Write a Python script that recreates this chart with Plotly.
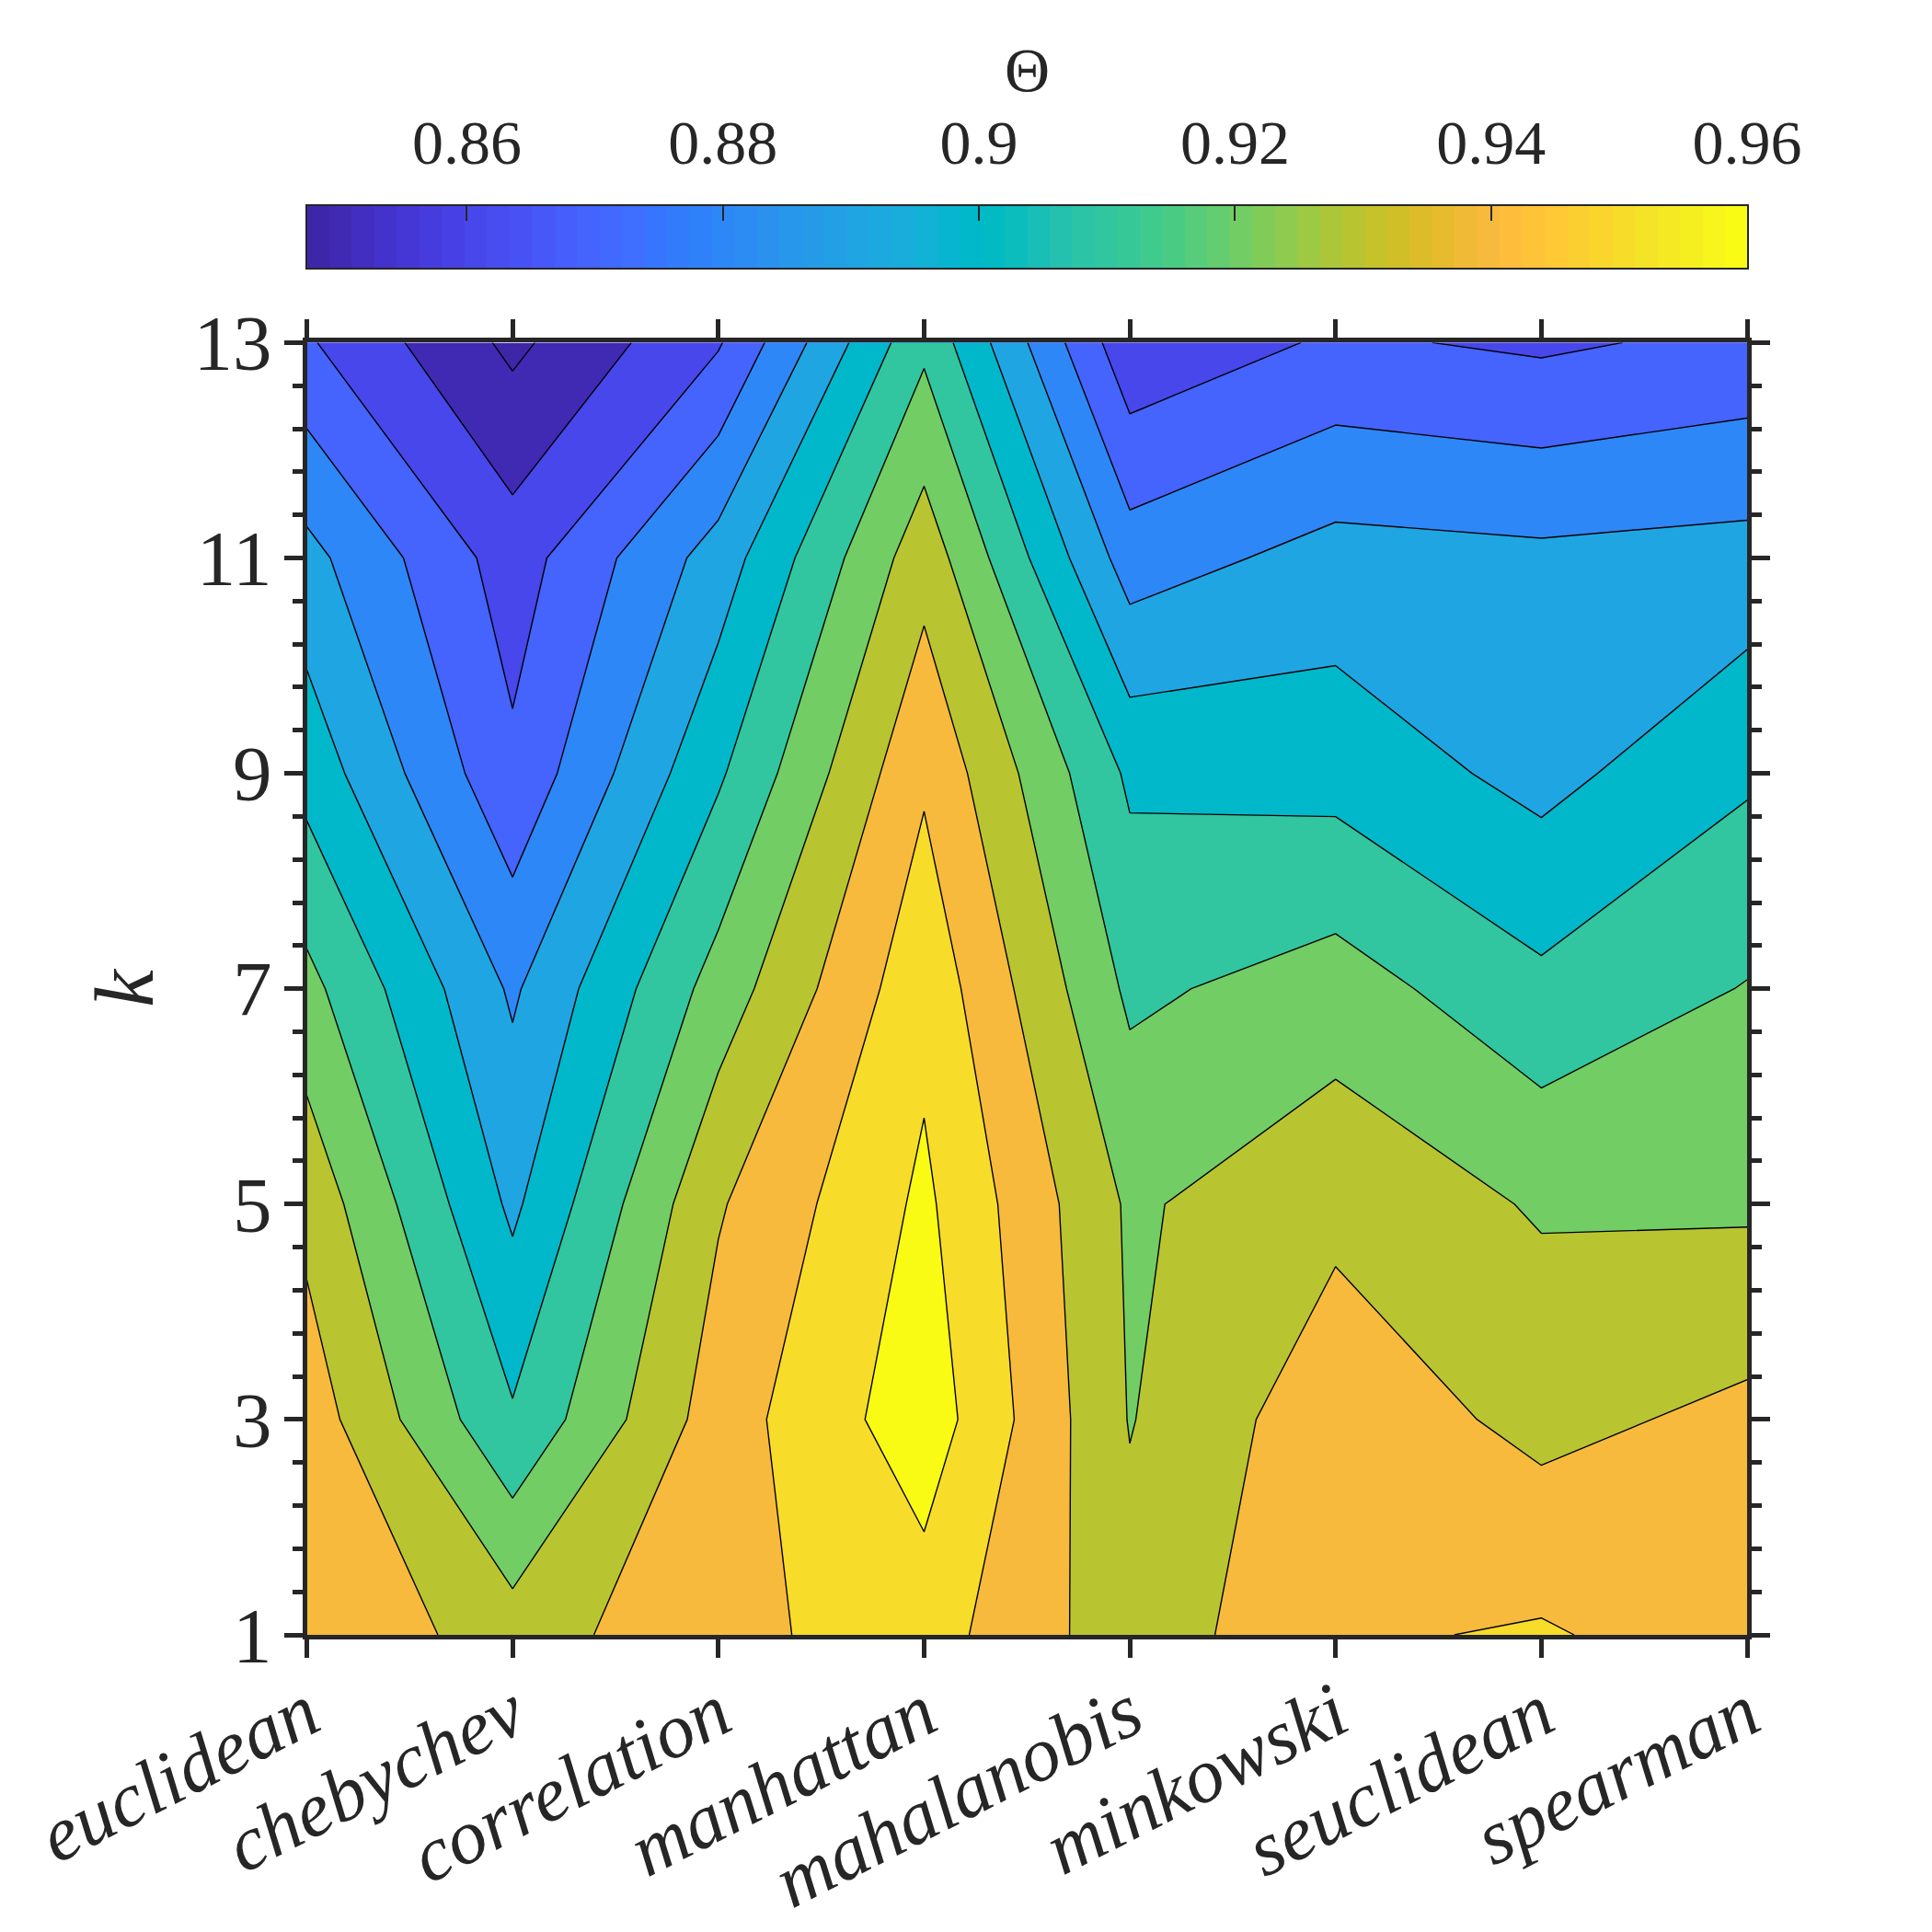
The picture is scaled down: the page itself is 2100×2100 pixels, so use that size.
import plotly.graph_objects as go

# ---------------- data ----------------
metrics = ["euclidean", "chebychev", "correlation", "manhattan",
           "mahalanobis", "minkowski", "seuclidean", "spearman"]
k_values = [1, 3, 5, 7, 9, 11, 13]

# Theta for each metric, ordered by k_values
theta_euclidean   = [0.9486, 0.9455, 0.9370, 0.9231, 0.9063, 0.8932, 0.8712]
theta_chebychev   = [0.9351, 0.9113, 0.8980, 0.8885, 0.8721, 0.8651, 0.8477]
theta_correlation = [0.9475, 0.9451, 0.9390, 0.9243, 0.9085, 0.8945, 0.8690]
theta_manhattan   = [0.9545, 0.9660, 0.9620, 0.9570, 0.9485, 0.9361, 0.9178]
theta_mahalanobis = [0.9340, 0.9295, 0.9285, 0.9180, 0.9082, 0.8850, 0.8626]
theta_minkowski   = [0.9485, 0.9466, 0.9373, 0.9247, 0.9063, 0.8937, 0.8715]
theta_seuclidean  = [0.9511, 0.9370, 0.9289, 0.9124, 0.8968, 0.8922, 0.8683]
theta_spearman    = [0.9442, 0.9426, 0.9285, 0.9205, 0.9085, 0.8937, 0.8726]

colorbar_ticks = [0.86, 0.88, 0.90, 0.92, 0.94, 0.96]
colorbar_ticktext = ["0.86", "0.88", "0.9", "0.92", "0.94", "0.96"]
clim = (0.8475, 0.96)
level_start, level_end, level_step = 0.85, 0.96, 0.01

# ---------------- style ----------------
PARULA = [
    (0.2422, 0.1504, 0.6603), (0.2504, 0.1650, 0.7076), (0.2578, 0.1818, 0.7511), (0.2647, 0.1978, 0.7952),
    (0.2706, 0.2147, 0.8364), (0.2751, 0.2342, 0.8710), (0.2783, 0.2559, 0.8991), (0.2803, 0.2782, 0.9221),
    (0.2813, 0.3006, 0.9414), (0.2810, 0.3228, 0.9579), (0.2795, 0.3447, 0.9717), (0.2760, 0.3667, 0.9829),
    (0.2699, 0.3892, 0.9906), (0.2602, 0.4123, 0.9952), (0.2440, 0.4358, 0.9988), (0.2206, 0.4603, 0.9973),
    (0.1963, 0.4847, 0.9892), (0.1834, 0.5074, 0.9798), (0.1786, 0.5289, 0.9682), (0.1764, 0.5499, 0.9520),
    (0.1687, 0.5703, 0.9359), (0.1540, 0.5902, 0.9218), (0.1460, 0.6091, 0.9079), (0.1380, 0.6276, 0.8973),
    (0.1248, 0.6459, 0.8883), (0.1113, 0.6635, 0.8763), (0.0952, 0.6798, 0.8598), (0.0689, 0.6948, 0.8394),
    (0.0297, 0.7082, 0.8163), (0.0036, 0.7203, 0.7917), (0.0067, 0.7312, 0.7660), (0.0433, 0.7411, 0.7394),
    (0.0964, 0.7500, 0.7120), (0.1408, 0.7584, 0.6842), (0.1717, 0.7670, 0.6554), (0.1938, 0.7758, 0.6251),
    (0.2161, 0.7843, 0.5923), (0.2470, 0.7918, 0.5567), (0.2906, 0.7973, 0.5188), (0.3406, 0.8008, 0.4789),
    (0.3909, 0.8029, 0.4354), (0.4456, 0.8024, 0.3909), (0.5044, 0.7993, 0.3480), (0.5616, 0.7942, 0.3045),
    (0.6174, 0.7876, 0.2612), (0.6720, 0.7793, 0.2227), (0.7242, 0.7698, 0.1910), (0.7738, 0.7598, 0.1646),
    (0.8203, 0.7498, 0.1535), (0.8634, 0.7406, 0.1596), (0.9035, 0.7330, 0.1774), (0.9393, 0.7288, 0.2100),
    (0.9728, 0.7298, 0.2394), (0.9956, 0.7434, 0.2371), (0.9970, 0.7659, 0.2199), (0.9952, 0.7893, 0.2028),
    (0.9892, 0.8136, 0.1885), (0.9786, 0.8386, 0.1766), (0.9676, 0.8639, 0.1643), (0.9610, 0.8890, 0.1537),
    (0.9597, 0.9135, 0.1423), (0.9628, 0.9373, 0.1265), (0.9691, 0.9606, 0.1064), (0.9769, 0.9839, 0.0805),
]


def rgb(c):
    return "rgb(%d,%d,%d)" % (round(c[0] * 255), round(c[1] * 255), round(c[2] * 255))


def parula_at(v):
    idx = int((v - clim[0]) / (clim[1] - clim[0]) * 64)
    return PARULA[max(0, min(63, idx))]


n_levels = int(round((level_end - level_start) / level_step)) + 1
levels = [level_start + i * level_step for i in range(n_levels)]
band_colors = [PARULA[0]] + [parula_at(L) for L in levels]
contour_scale = [[j / n_levels, rgb(band_colors[j])] for j in range(n_levels + 1)]

series = [theta_euclidean, theta_chebychev, theta_correlation, theta_manhattan,
          theta_mahalanobis, theta_minkowski, theta_seuclidean, theta_spearman]
z = [[series[c][r] for c in range(len(metrics))] for r in range(len(k_values))]
x_pos = list(range(1, len(metrics) + 1))

FONT = "Liberation Serif"
AX = "#262626"
W = H = 2100
x_dom = [333.5 / W, 1899.0 / W]
y_dom = [1 - 1777.0 / H, 1 - 372.4 / H]
cb_dom = [1 - 291.0 / H, 1 - 224.0 / H]

fig = go.Figure()
fig.add_trace(go.Contour(
    x=x_pos, y=k_values, z=z,
    autocontour=False,
    contours=dict(start=level_start, end=level_end, size=level_step,
                  coloring="fill", showlines=True),
    line=dict(color="black", width=1.4, smoothing=0),
    colorscale=contour_scale, showscale=False, hoverinfo="skip",
    xaxis="x", yaxis="y",
))

# colour bar drawn as its own strip of parula cells
ncb = len(PARULA)
cb_x = [clim[0] + (i + 0.5) * (clim[1] - clim[0]) / ncb for i in range(ncb)]
fig.add_trace(go.Heatmap(
    x=cb_x, y=[0], z=[list(range(ncb))],
    colorscale=[[i / (ncb - 1), rgb(PARULA[i])] for i in range(ncb)],
    zmin=0, zmax=ncb - 1, showscale=False, hoverinfo="skip",
    xaxis="x2", yaxis="y2",
))

fig.update_layout(
    template="none",
    width=W, height=H,
    margin=dict(l=0, r=0, t=0, b=0, autoexpand=False),
    paper_bgcolor="white", plot_bgcolor="white",
    showlegend=False,
    xaxis=dict(domain=x_dom, anchor="y", range=[1, 8], automargin=False,
               tickmode="array", tickvals=x_pos,
               ticktext=["<i>%s</i>" % m for m in metrics],
               tickangle=-27, tickfont=dict(family=FONT, size=84, color=AX),
               ticks="outside", ticklen=20, tickwidth=5, tickcolor=AX,
               showline=True, linewidth=5, linecolor=AX, mirror="ticks",
               showgrid=False, zeroline=False, ticklabelstandoff=-20),
    xaxis3=dict(overlaying="x", anchor="y", range=[1, 8], automargin=False,
                tickmode="array", tickvals=x_pos, showticklabels=False,
                ticks="inside", ticklen=19, tickwidth=5, tickcolor=AX,
                mirror="ticks", showline=False, showgrid=False, zeroline=False),
    yaxis=dict(domain=y_dom, anchor="x", range=[1, 13], automargin=False,
               tickmode="array", tickvals=k_values,
               tickfont=dict(family=FONT, size=85, color=AX),
               ticks="outside", ticklen=20, tickwidth=5, tickcolor=AX,
               minor=dict(ticks="outside", ticklen=11, tickwidth=5, tickcolor=AX,
                          tick0=1, dtick=0.4, showgrid=False),
               showline=True, linewidth=5, linecolor=AX, mirror="ticks",
               showgrid=False, zeroline=False, ticklabelstandoff=-4),
    yaxis3=dict(overlaying="y", anchor="x", range=[1, 13], automargin=False,
                tickmode="array", tickvals=k_values, showticklabels=False,
                ticks="inside", ticklen=19, tickwidth=5, tickcolor=AX,
                minor=dict(ticks="inside", ticklen=11, tickwidth=5, tickcolor=AX,
                           tick0=1, dtick=0.4, showgrid=False),
                mirror="ticks", showline=False, showgrid=False, zeroline=False),
    xaxis2=dict(domain=x_dom, anchor="y2", range=list(clim), side="top",
                automargin=False,
                tickmode="array", tickvals=colorbar_ticks, ticktext=colorbar_ticktext,
                tickfont=dict(family=FONT, size=68, color=AX),
                ticks="inside", ticklen=16, tickwidth=2, tickcolor=AX,
                showline=True, linewidth=2, linecolor=AX, mirror=True,
                showgrid=False, zeroline=False, ticklabelstandoff=17),
    yaxis2=dict(domain=cb_dom, anchor="x2", range=[-0.5, 0.5], automargin=False,
                showticklabels=False, ticks="", showline=True, linewidth=2,
                linecolor=AX, mirror=True, showgrid=False, zeroline=False),
    annotations=[
        dict(text="\u0398", xref="paper", yref="paper",
             x=(x_dom[0] + x_dom[1]) / 2, y=1 - 76.0 / H,
             xanchor="center", yanchor="middle", showarrow=False,
             font=dict(family=FONT, size=68, color=AX)),
        dict(text="<i>k</i>", xref="paper", yref="paper",
             x=135.0 / W, y=1 - 1074.0 / H, textangle=-90,
             xanchor="center", yanchor="middle", showarrow=False,
             font=dict(family=FONT, size=92, color=AX)),
    ],
)

fig.write_html("out.html")
